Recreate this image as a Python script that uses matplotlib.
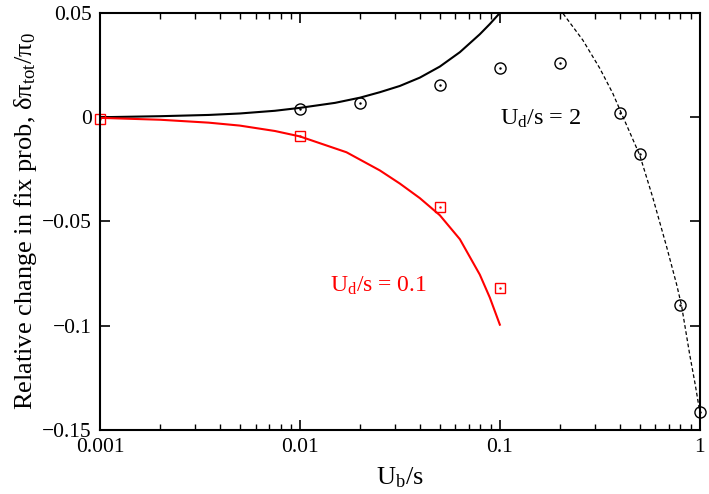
import matplotlib.pyplot as plt
from matplotlib.ticker import LogLocator, NullFormatter, FixedLocator

plt.rcParams['font.family'] = ['Liberation Serif', 'DejaVu Serif']
plt.rcParams['mathtext.fontset'] = 'custom'
plt.rcParams['mathtext.rm'] = 'Liberation Serif'
plt.rcParams['mathtext.it'] = 'Liberation Serif:italic'

# simulation points, U_d/s = 2 (circles)
ub_circ = [0.01, 0.02, 0.05, 0.1, 0.2, 0.4, 0.5, 0.8, 1.0]
dpi_circ = [0.0038, 0.0068, 0.0153, 0.0235, 0.0259, 0.0019, -0.0178, -0.0902, -0.1415]

# simulation points, U_d/s = 0.1 (squares)
ub_sq = [0.001, 0.01, 0.05, 0.1]
dpi_sq = [-0.0008, -0.0091, -0.0430, -0.0820]

# theory, small U_b (black solid)
ub_th_black = [0.001, 0.002, 0.0035, 0.005, 0.0075, 0.01, 0.015, 0.02, 0.0251, 0.0316, 0.0398,
               0.0501, 0.0631, 0.0794, 0.0891, 0.1]
dpi_th_black = [0.0, 0.0005, 0.0011, 0.0018, 0.0031, 0.0045, 0.0069, 0.0094, 0.0120, 0.0150, 0.0190,
                0.0243, 0.0312, 0.0398, 0.0447, 0.0500]

# theory, U_d/s = 0.1 (red solid)
ub_th_red = [0.001, 0.002, 0.0035, 0.005, 0.0075, 0.01, 0.0171, 0.0251, 0.0316, 0.0398,
             0.0501, 0.0631, 0.0794, 0.0891, 0.1]
dpi_th_red = [-0.0003, -0.0012, -0.0026, -0.0040, -0.0066, -0.0092, -0.0168, -0.0255, -0.0318, -0.0388,
              -0.0470, -0.0585, -0.0755, -0.0865, -0.0995]

# theory, large U_b (black dashed)
ub_th_dash = [0.2072, 0.26, 0.316, 0.367, 0.406, 0.501, 0.582, 0.682, 0.765, 0.81, 0.891, 0.95, 1.0]
dpi_th_dash = [0.0497, 0.0370, 0.0235, 0.0115, 0.0018, -0.0182, -0.0385, -0.0620, -0.0800, -0.0902,
               -0.1140, -0.1285, -0.1413]

fig = plt.figure(figsize=(7.09, 4.94), dpi=100)
ax = fig.add_axes([0.141, 0.1296, 0.846, 0.8441])

ax.plot(ub_th_black, dpi_th_black, color='black', lw=1.5)
ax.plot(ub_th_red, dpi_th_red, color='red', lw=1.5)
ax.plot(ub_th_dash, dpi_th_dash, color='black', lw=0.9, ls=(0, (3, 2)))

ax.plot(ub_circ, dpi_circ, 'o', mfc='none', mec='black', mew=1.0, ms=8, clip_on=False)
ax.plot(ub_circ, dpi_circ, '.', color='black', ms=1.5, clip_on=False)
ax.plot(ub_sq, dpi_sq, 's', mfc='none', mec='red', mew=1.0, ms=7.5, clip_on=False)
ax.plot(ub_sq, dpi_sq, '.', color='red', ms=1.5, clip_on=False)

ax.set_xscale('log')
ax.set_xlim(0.001, 1)
ax.set_ylim(-0.15, 0.05)

ax.xaxis.set_major_locator(FixedLocator([0.001, 0.01, 0.1, 1]))
ax.set_xticklabels(['0.001', '0.01', '0.1', '1'])
ax.xaxis.set_minor_locator(LogLocator(base=10, subs=range(2, 10)))
ax.xaxis.set_minor_formatter(NullFormatter())
ax.set_yticks([-0.15, -0.1, -0.05, 0, 0.05])
ax.set_yticklabels(['\u22120.15', '\u22120.1', '\u22120.05', '0', '0.05'])

ax.tick_params(which='major', direction='in', length=7, width=1.2, top=True, right=True,
               labelsize=15.5, pad=6)
ax.tick_params(which='minor', direction='in', length=4, width=1.0, top=True, right=True)
for sp in ax.spines.values():
    sp.set_linewidth(1.5)

ax.set_xlabel(r'U$_\mathrm{b}$/s', fontsize=19, labelpad=6)
ax.set_ylabel('Relative change in fix prob, \u03b4\u03c0$_\\mathrm{tot}$/\u03c0$_0$', fontsize=19, labelpad=2)

ax.text(0.1, -0.0034, r'U$_\mathrm{d}$/s = 2', fontsize=17.5, color='black', ha='left', va='baseline')
ax.text(0.0141, -0.0838, r'U$_\mathrm{d}$/s = 0.1', fontsize=17, color='red', ha='left', va='baseline')

fig.savefig('out.png', dpi=100)
plt.close(fig)
